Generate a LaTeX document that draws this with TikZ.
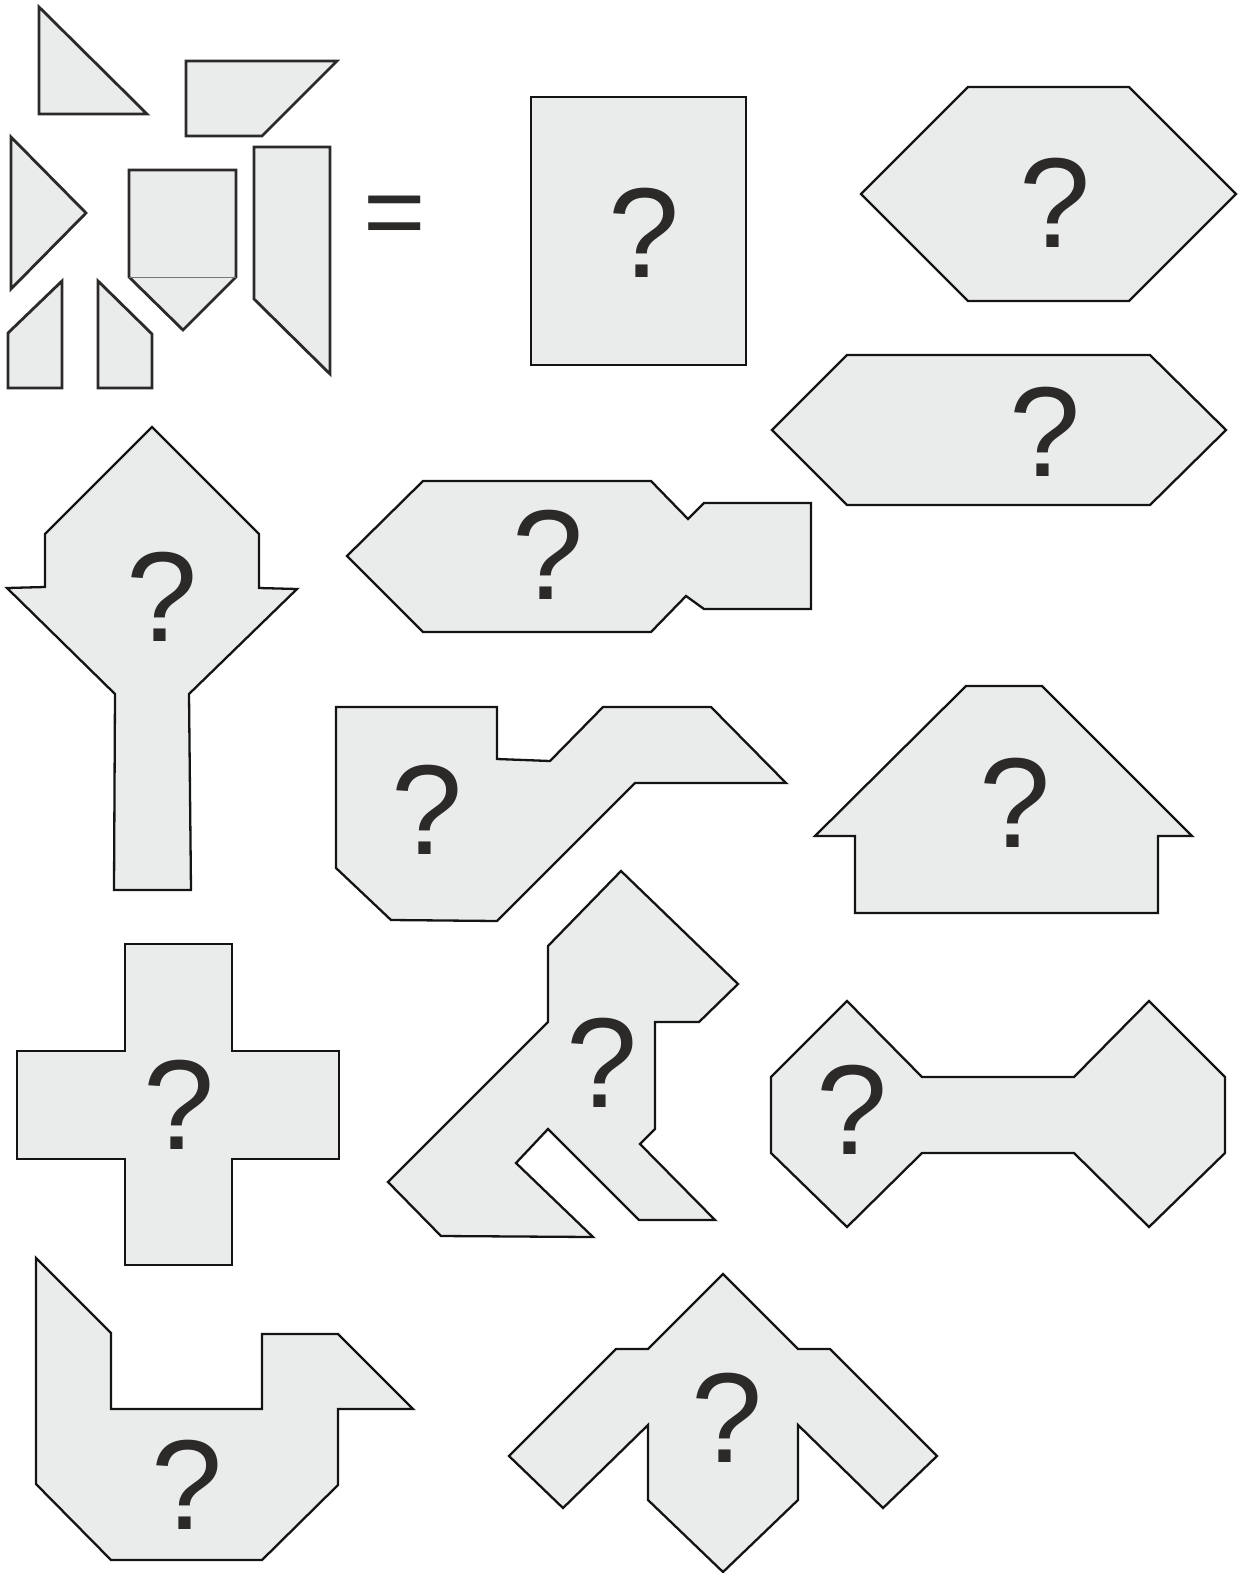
\documentclass[tikz,border=0pt]{standalone}
\usepackage{fontspec}
\setmainfont{Liberation Sans}
\usetikzlibrary{positioning}
\definecolor{piecefill}{RGB}{234,236,235}
\definecolor{pieceline}{RGB}{20,20,20}
\definecolor{markgray}{RGB}{43,42,41}
\definecolor{seamgray}{RGB}{120,120,120}

\begin{document}
\begin{tikzpicture}[x=1pt, y=-1pt,
  piece/.style={draw=pieceline, fill=piecefill, line width=2.3pt, line join=miter},
  setpiece/.style={piece, draw=markgray, line width=2.8pt},
  seam/.style={draw=seamgray, line width=1pt},
  qmark/.style={text=markgray, inner sep=0pt, font=\fontsize{128}{128}\selectfont},
  eqsign/.style={text=markgray, inner sep=0pt, font=\fontsize{107}{107}\selectfont}
]
\useasboundingbox (0,0) rectangle (1239,1573);

%% The seven pieces
\draw[setpiece] (39,7) -- (39,114) -- (147,114) -- cycle;
\draw[setpiece] (186,61) -- (337,61) -- (262,136) -- (186,136) -- cycle;
\draw[setpiece] (11,137) -- (86,213) -- (11,289) -- cycle;
\draw[setpiece] (129,170) -- (236,170) -- (236,277) -- (183,330) -- (129,277) -- cycle;
\draw[seam] (129,277) -- (236,277);
\draw[setpiece] (254,147) -- (330,147) -- (330,374) -- (254,299) -- cycle;
\draw[setpiece] (8,333) -- (62,281) -- (62,388) -- (8,388) -- cycle;
\draw[setpiece] (98,281) -- (152,334) -- (152,388) -- (98,388) -- cycle;
\node[eqsign] (eq) at (395,222) {=};

%% Rectangle and hexagons
\draw[piece] (531,97) rectangle (746,365);
\node[qmark] (q-rect) at (644,233) {?};
\draw[piece] (968,87) -- (1129,87) -- (1236,194) -- (1129,301) -- (968,301) -- (861,194) -- cycle;
\node[qmark] (q-hex) at (1055,203) {?};
\draw[piece] (847,355) -- (1150,355) -- (1226,430) -- (1150,505) -- (847,505) -- (772,430) -- cycle;
\node[qmark] (q-longhex) at (1045,432) {?};

%% Tree
\draw[piece] (152,427) -- (259,534) -- (259,588) -- (297,589) -- (189,694) -- (191,890)
  -- (114,890) -- (115,694) -- (7,588) -- (45,587) -- (45,534) -- cycle;
\node[qmark] (q-tree) at (162,597) {?};

%% Rocket
\draw[piece] (423,481) -- (651,481) -- (688,519) -- (704,503) -- (811,503) -- (811,609)
  -- (704,609) -- (686,596) -- (651,632) -- (423,632) -- (347,556) -- cycle;
\node[qmark] (q-rocket) at (548,555) {?};

%% Hook
\draw[piece] (336,707) -- (497,707) -- (497,759) -- (550,761) -- (603,707) -- (711,707)
  -- (786,783) -- (635,783) -- (497,921) -- (391,920) -- (336,868) -- cycle;
\node[qmark] (q-hook) at (427,810) {?};

%% House
\draw[piece] (966,686) -- (1042,686) -- (1192,836) -- (1158,836) -- (1158,913)
  -- (855,913) -- (855,836) -- (815,836) -- cycle;
\node[qmark] (q-house) at (1015,803) {?};

%% Cross
\draw[piece] (125,944) -- (232,944) -- (232,1051) -- (339,1051) -- (339,1159) -- (232,1159)
  -- (232,1265) -- (125,1265) -- (125,1159) -- (17,1159) -- (17,1051) -- (125,1051) -- cycle;
\node[qmark] (q-cross) at (179,1105) {?};

%% Runner
\draw[piece] (621,871) -- (738,984) -- (699,1022) -- (655,1022) -- (655,1129) -- (640,1144)
  -- (715,1220) -- (639,1220) -- (548,1129) -- (516,1163) -- (593,1237) -- (441,1236)
  -- (388,1182) -- (548,1022) -- (548,946) -- cycle;
\node[qmark] (q-runner) at (602,1063) {?};

%% Bone
\draw[piece] (847,1001) -- (922,1077) -- (1074,1077) -- (1149,1001) -- (1225,1077) -- (1225,1153)
  -- (1149,1227) -- (1074,1153) -- (922,1153) -- (847,1227) -- (771,1153) -- (771,1077) -- cycle;
\node[qmark] (q-bone) at (852,1110) {?};

%% Boat
\draw[piece] (36,1258) -- (111,1333) -- (111,1409) -- (262,1409) -- (262,1334) -- (338,1334)
  -- (413,1409) -- (338,1409) -- (338,1485) -- (262,1560) -- (111,1560) -- (36,1484) -- cycle;
\node[qmark] (q-boat) at (187,1485) {?};

%% Bird
\draw[piece] (723,1274) -- (798,1349) -- (830,1349) -- (937,1456) -- (883,1508) -- (798,1425)
  -- (798,1500) -- (723,1572) -- (648,1500) -- (648,1425) -- (563,1508) -- (509,1456)
  -- (616,1349) -- (648,1349) -- cycle;
\node[qmark] (q-bird) at (727,1418) {?};

\end{tikzpicture}
\end{document}
